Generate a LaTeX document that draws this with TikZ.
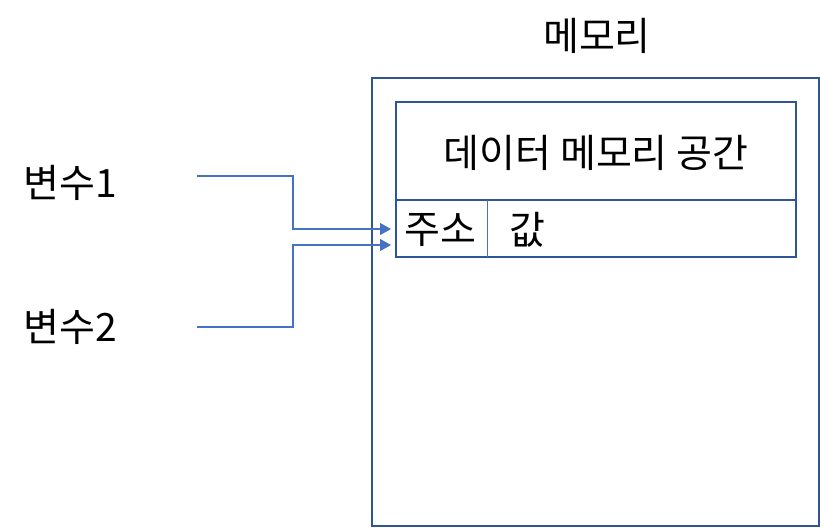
\documentclass[tikz,border=0pt]{standalone}
\usepackage{fontspec}
\setmainfont{Noto Sans CJK KR}
\usetikzlibrary{arrows.meta}
\definecolor{boxblue}{HTML}{2F5597}
\definecolor{linkblue}{HTML}{4472C4}
\tikzset{
  box/.style={draw=boxblue, line width=2pt, inner sep=0pt, anchor=center},
  lbl/.style={font=\fontsize{39}{44}\selectfont, inner sep=0pt, anchor=center},
  link/.style={draw=linkblue, line width=1.2pt, -{Triangle[length=11pt,width=12pt]}},
}
\begin{document}
\begin{tikzpicture}[x=1pt,y=-1pt]
\useasboundingbox (0,0) rectangle (820,528);
\node[box, minimum width=447pt, minimum height=448pt] (mem) at (595.5,302) {};
\node[lbl] (memlbl) at (597,36) {메모리};
\node[box, minimum width=400pt, minimum height=98pt] (data) at (596,151) {};
\node[lbl] (datalbl) at (596,153) {데이터 메모리 공간};
\node[box, minimum width=400pt, minimum height=57pt] (row) at (596,228.5) {};
\coordinate (divtop) at (487,200);
\coordinate (divbot) at (487,257);
\draw[linkblue, line width=1pt] (divtop) -- (divbot);
\node[lbl] (addr) at (440,230) {주소};
\node[lbl] (val) at (527,230) {값};
\node[lbl] (v1) at (70,183) {변수1};
\node[lbl] (v2) at (70,327) {변수2};
\coordinate (s1) at (197,176);
\coordinate (s2) at (197,327);
\coordinate (t1) at (391,229);
\coordinate (t2) at (391,245);
\draw[link] (s1) -- (293,176) |- (t1);
\draw[link] (s2) -- (293,327) |- (t2);
\end{tikzpicture}
\end{document}
